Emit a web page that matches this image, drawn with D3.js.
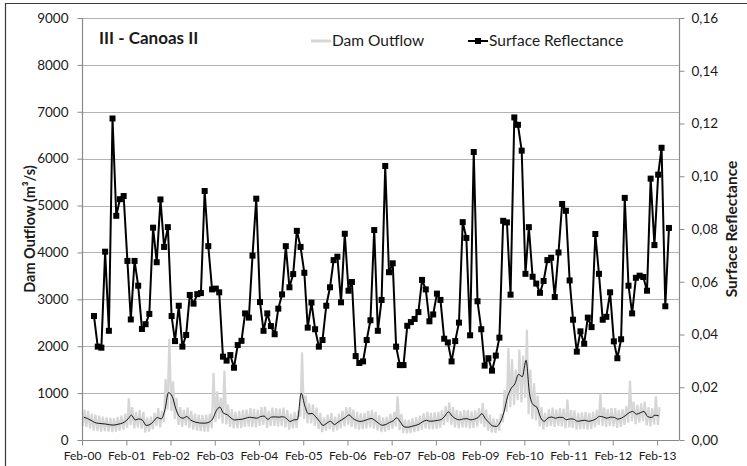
<!DOCTYPE html>
<html>
<head>
<meta charset="utf-8">
<script src="https://cdn.jsdelivr.net/npm/d3@7"></script>
<style>
  html, body { margin: 0; padding: 0; background: #fff; }
  svg { display: block; font-family: Lato, "Open Sans", sans-serif; }
</style>
</head>
<body>
<svg id="chart" width="747" height="466"></svg>
<script>
// ---- data ----
const chartTitle = "III - Canoas II";
const seriesNames = ["Dam Outflow", "Surface Reflectance"];
const axisTitles = ["Dam Outflow (m³/s)", "Surface Reflectance"];

// x axis tick years (labels shown as Feb-YY)
const tickYears = [2000, 2001, 2002, 2003, 2004, 2005, 2006, 2007, 2008, 2009, 2010, 2011, 2012, 2013];
const outflowTicks = [0, 1000, 2000, 3000, 4000, 5000, 6000, 7000, 8000, 9000];
const reflectanceTicks = [0, 0.02, 0.04, 0.06, 0.08, 0.10, 0.12, 0.14, 0.16];

// monthly surface reflectance, first value May 2000
const reflectanceStart = [2000, 4];  // [year, month index]
const reflectance = [
  0.0470, 0.0354, 0.0350, 0.0714, 0.0414, 0.1219, 0.0850, 0.0913, 0.0925, 0.0679,
  0.0457, 0.0679, 0.0585, 0.0421, 0.0439, 0.0478, 0.0805, 0.0674, 0.0912, 0.0732,
  0.0807, 0.0470, 0.0375, 0.0509, 0.0354, 0.0398, 0.0550, 0.0517, 0.0553, 0.0557,
  0.0944, 0.0735, 0.0571, 0.0574, 0.0560, 0.0316, 0.0301, 0.0322, 0.0274, 0.0360,
  0.0376, 0.0480, 0.0464, 0.0699, 0.0915, 0.0523, 0.0414, 0.0480, 0.0432, 0.0401,
  0.0498, 0.0552, 0.0735, 0.0579, 0.0629, 0.0793, 0.0732, 0.0634, 0.0426, 0.0521,
  0.0420, 0.0354, 0.0379, 0.0509, 0.0579, 0.0682, 0.0695, 0.0522, 0.0782, 0.0566,
  0.0599, 0.0318, 0.0292, 0.0298, 0.0379, 0.0454, 0.0796, 0.0414, 0.0531, 0.1039,
  0.0636, 0.0670, 0.0354, 0.0284, 0.0284, 0.0433, 0.0447, 0.0459, 0.0485, 0.0607,
  0.0571, 0.0450, 0.0476, 0.0555, 0.0531, 0.0384, 0.0370, 0.0298, 0.0375, 0.0445,
  0.0826, 0.0766, 0.0397, 0.1092, 0.0526, 0.0420, 0.0282, 0.0310, 0.0263, 0.0320,
  0.0388, 0.0831, 0.0825, 0.0551, 0.1223, 0.1195, 0.1097, 0.0630, 0.0807, 0.0619,
  0.0593, 0.0558, 0.0603, 0.0682, 0.0691, 0.0542, 0.0711, 0.0895, 0.0869, 0.0605,
  0.0456, 0.0335, 0.0412, 0.0365, 0.0464, 0.0428, 0.0781, 0.0630, 0.0456, 0.0467,
  0.0560, 0.0374, 0.0310, 0.0382, 0.0918, 0.0585, 0.0480, 0.0615, 0.0623, 0.0618,
  0.0566, 0.0991, 0.0739, 0.1006, 0.1108, 0.0507, 0.0804
];

// dam outflow per month from Feb 2000 to Feb 2013 (m³/s)
const outflowStart = [2000, 1];
// monthly mean (thin black line)
const outflowMean = [
  486, 460, 420, 375, 355, 348, 340, 325, 318, 330, 348, 380, 450, 530, 428, 450, 420, 310, 330, 400,
  480, 450, 620, 1010, 930, 680, 500, 465, 500, 430, 390, 370, 360, 360, 380, 450, 630, 700, 570, 540,
  470, 428, 435, 443, 465, 485, 476, 466, 500, 510, 440, 490, 493, 487, 497, 460, 395, 428, 435, 1000,
  720, 560, 565, 495, 400, 310, 360, 400, 330, 380, 430, 480, 535, 465, 420, 395, 410, 435, 460, 420,
  360, 315, 330, 375, 410, 475, 380, 282, 272, 290, 310, 338, 390, 420, 400, 405, 418, 435, 510, 600,
  510, 453, 430, 450, 455, 430, 445, 480, 560, 460, 370, 300, 290, 370, 580, 920, 1100, 1200, 1400, 1350,
  1700, 1000, 750, 700, 480, 400, 470, 490, 464, 485, 480, 432, 450, 445, 400, 410, 420, 400, 415, 450,
  505, 490, 465, 488, 480, 445, 470, 520, 580, 610, 550, 580, 610, 500, 480, 530, 514
];
// lowest daily value of each month
const outflowMin = [
  300, 280, 240, 200, 190, 180, 190, 180, 170, 180, 200, 220, 260, 320, 250, 270, 240, 160, 180, 230,
  300, 270, 380, 650, 620, 450, 320, 280, 310, 260, 220, 200, 190, 180, 180, 250, 380, 450, 350, 330,
  280, 250, 250, 260, 280, 290, 280, 270, 300, 320, 260, 300, 300, 290, 300, 270, 220, 250, 260, 500,
  450, 360, 360, 300, 230, 170, 200, 230, 180, 210, 250, 290, 330, 280, 240, 220, 230, 250, 270, 240,
  200, 170, 180, 210, 240, 290, 210, 150, 140, 150, 170, 190, 220, 250, 230, 230, 240, 260, 320, 380,
  320, 270, 250, 270, 270, 250, 260, 290, 350, 280, 200, 160, 150, 200, 380, 600, 700, 750, 850, 800,
  900, 550, 450, 420, 290, 220, 280, 300, 280, 300, 290, 250, 270, 260, 220, 230, 240, 220, 230, 270,
  320, 300, 280, 300, 290, 260, 280, 320, 370, 400, 340, 370, 400, 310, 290, 330, 320
];
// highest daily value of each month
const outflowMax = [
  650, 620, 560, 540, 520, 500, 480, 470, 460, 490, 520, 560, 890, 700, 600, 640, 600, 480, 500, 580,
  680, 620, 1300, 2160, 1250, 900, 700, 650, 690, 620, 560, 540, 530, 540, 560, 1430, 1040, 900, 1480, 760,
  660, 600, 620, 640, 650, 680, 660, 650, 700, 710, 620, 690, 680, 670, 690, 640, 560, 600, 620, 1870,
  950, 780, 760, 690, 580, 480, 540, 580, 500, 560, 620, 700, 700, 650, 600, 570, 580, 620, 640, 600,
  530, 480, 500, 560, 600, 930, 560, 440, 430, 460, 480, 520, 570, 600, 580, 590, 600, 630, 720, 800,
  700, 640, 610, 640, 640, 610, 630, 680, 790, 650, 540, 460, 450, 560, 1070, 1960, 1720, 1500, 1930, 1800,
  2350, 1500, 1210, 950, 700, 580, 660, 690, 650, 680, 670, 860, 640, 630, 580, 590, 600, 580, 600, 640,
  990, 690, 660, 680, 680, 640, 660, 720, 1270, 820, 750, 780, 820, 700, 680, 930, 700
];

// ---- layout ----
const svg = d3.select("#chart");
const plot = { left: 82, right: 679, top: 18, bottom: 440 };

const x = d3.scaleTime()
  .domain([new Date(2000, 1, 1), new Date(2013, 7, 1)])
  .range([plot.left, plot.right]);
const yL = d3.scaleLinear().domain([0, 9000]).range([plot.bottom, plot.top]);
const yR = d3.scaleLinear().domain([0, 0.16]).range([plot.bottom, plot.top]);

// chart frame
svg.append("path")
  .attr("d", "M5.5,470 V3.5 H760")
  .attr("fill", "none").attr("stroke", "#3a3a3a").attr("stroke-width", 1.2);

// horizontal gridlines
svg.append("g")
  .selectAll("line")
  .data(outflowTicks.filter(d => d > 0))
  .join("line")
  .attr("x1", plot.left).attr("x2", plot.right)
  .attr("y1", d => Math.round(yL(d)) + 0.5).attr("y2", d => Math.round(yL(d)) + 0.5)
  .attr("stroke", "#b3b3b3").attr("stroke-width", 1);

// ---- series ----
const monthDate = (start, i, day) => new Date(start[0], start[1] + i, day);

// daily outflow envelope drawn as a dense line (min then max within each month)
const outflowDaily = [];
outflowMin.forEach((v, i) => {
  outflowDaily.push({ date: monthDate(outflowStart, i, 8), value: v });
  outflowDaily.push({ date: monthDate(outflowStart, i, 22), value: outflowMax[i] });
});
const lineL = d3.line().x(d => x(d.date)).y(d => yL(d.value));

svg.append("path")
  .datum(outflowDaily)
  .attr("d", lineL)
  .attr("fill", "none").attr("stroke", "#d6d6d6").attr("stroke-width", 2.2)
  .attr("stroke-linejoin", "miter");

const outflowMeanPts = outflowMean.map((v, i) => ({ date: monthDate(outflowStart, i, 15), value: v }));
svg.append("path")
  .datum(outflowMeanPts)
  .attr("d", lineL.curve(d3.curveMonotoneX))
  .attr("fill", "none").attr("stroke", "#000").attr("stroke-width", 0.9);

// surface reflectance
const reflPts = reflectance.map((v, i) => ({ date: monthDate(reflectanceStart, i, 10), value: v }));
svg.append("path")
  .datum(reflPts)
  .attr("d", d3.line().x(d => x(d.date)).y(d => yR(d.value)))
  .attr("fill", "none").attr("stroke", "#000").attr("stroke-width", 2).attr("stroke-linejoin", "round");

const ms = 6;
svg.append("g")
  .selectAll("rect")
  .data(reflPts)
  .join("rect")
  .attr("x", d => x(d.date) - ms / 2).attr("y", d => yR(d.value) - ms / 2)
  .attr("width", ms).attr("height", ms).attr("fill", "#000");

// ---- axes ----
const axisColor = "#8a8a8a";
const textColor = "#1a1a1a";

const gxL = svg.append("g").attr("transform", `translate(${plot.left + 0.5},0)`)
  .call(d3.axisLeft(yL).tickValues(outflowTicks).tickSize(5).tickPadding(9).tickFormat(d3.format("d")));
const gxR = svg.append("g").attr("transform", `translate(${plot.right + 0.5},0)`)
  .call(d3.axisRight(yR).tickValues(reflectanceTicks).tickSize(5).tickPadding(7)
    .tickFormat(d => d3.format(".2f")(d).replace(".", ",")));
const tickDates = tickYears.map(yr => new Date(yr, 1, 1));
const gxB = svg.append("g").attr("transform", `translate(0,${plot.bottom + 0.5})`)
  .call(d3.axisBottom(x).tickValues(tickDates).tickSize(5).tickPadding(6)
    .tickFormat(d3.timeFormat("%b-%y")));

[gxL, gxR, gxB].forEach(g => {
  g.select(".domain").attr("stroke", axisColor).attr("stroke-width", 1.2);
  g.selectAll(".tick line").attr("stroke", axisColor);
  g.selectAll(".tick text").attr("fill", textColor).style("font-size", "13.5px")
    .style("font-family", "Lato, 'Open Sans', sans-serif");
});
gxB.selectAll(".tick text").style("font-size", "12px");
gxL.select(".domain").attr("d", `M0,${plot.top}V${plot.bottom}`);
gxR.select(".domain").attr("d", `M0,${plot.top}V${plot.bottom}`);
gxB.select(".domain").attr("d", `M${plot.left},0H${plot.right}`);

// axis titles
svg.append("text")
  .attr("transform", `translate(35,${(plot.top + plot.bottom) / 2}) rotate(-90)`)
  .attr("text-anchor", "middle")
  .style("font-size", "14.5px").style("font-weight", "bold").attr("fill", textColor)
  .text(axisTitles[0]);
svg.append("text")
  .attr("transform", `translate(737,${(plot.top + plot.bottom) / 2}) rotate(-90)`)
  .attr("text-anchor", "middle")
  .style("font-size", "15.5px").style("font-weight", "bold").attr("fill", textColor)
  .text(axisTitles[1]);

// chart title
svg.append("text")
  .attr("x", 99).attr("y", 44)
  .style("font-size", "17px").style("font-weight", "bold").attr("fill", textColor)
  .text(chartTitle);

// legend
const lg = svg.append("g").attr("transform", "translate(0,41)");
lg.append("line").attr("x1", 311).attr("x2", 331).attr("y1", 0).attr("y2", 0)
  .attr("stroke", "#d6d6d6").attr("stroke-width", 3);
lg.append("text").attr("x", 332).attr("y", 5).style("font-size", "15.5px").attr("fill", textColor)
  .text(seriesNames[0]);
lg.append("line").attr("x1", 468).attr("x2", 488).attr("y1", 0).attr("y2", 0)
  .attr("stroke", "#000").attr("stroke-width", 2);
lg.append("rect").attr("x", 475).attr("y", -3).attr("width", 6).attr("height", 6).attr("fill", "#000");
lg.append("text").attr("x", 489).attr("y", 5).style("font-size", "15.5px").attr("fill", textColor)
  .text(seriesNames[1]);
</script>
</body>
</html>
